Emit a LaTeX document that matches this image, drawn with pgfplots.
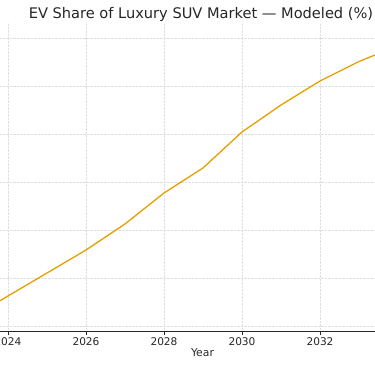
\documentclass[border=0pt]{standalone}
\usepackage{pgfplots}
\pgfplotsset{compat=1.18}
\usepackage{fontspec}
\setmainfont{DejaVu Sans}
\definecolor{evline}{RGB}{230,159,0}
\definecolor{txt}{RGB}{38,38,38}
\definecolor{gridc}{RGB}{222,222,222}
\begin{document}
\begin{tikzpicture}[x=1pt,y=1pt]
\useasboundingbox (0,-35) rectangle (375,331);
\begin{axis}[
  at={(0,0)}, anchor=south west,
  scale only axis, width=375pt, height=308pt,
  xmin=2023.795, xmax=2033.41,
  ymin=8.958, ymax=73.125,
  xtick={2024,2026,2028,2030,2032,2034},
  ytick={10,20,30,40,50,60,70},
  yticklabels={},
  x tick label style={/pgf/number format/.cd, 1000 sep={}, /tikz/.cd},
  xticklabel style={font=\fontsize{10.6}{12}\selectfont, text=txt},
  /pgf/number format/assume math mode=true,
  axis x line*=bottom, axis y line*=left,
  y axis line style={draw=none},
  x axis line style={draw=txt, line width=0.8pt, -},
  ytick style={draw=none},
  xtick style={draw=txt, line width=0.7pt},
  tick align=outside, major tick length=3.6pt,
  grid=major,
  grid style={densely dotted, draw=gridc, line width=0.8pt},
  clip=true,
]
\addplot[evline, line width=1.3pt] coordinates {
(2023,11.5) (2024,16.25) (2025,21.04) (2026,25.83) (2027,31.25) (2028,37.71)
(2029,42.92) (2030,50.42) (2031,56.04) (2032,61.04) (2033,65.1) (2034,68.4)
};
\end{axis}
\node[anchor=base, text=txt, font=\fontsize{14.6}{18}\selectfont] at (201,312.5) {EV Share of Luxury SUV Market — Modeled (\%)};
\node[anchor=center, text=txt, font=\fontsize{10.8}{12}\selectfont] at (202.5,-21.7) {Year};
\end{tikzpicture}
\end{document}
